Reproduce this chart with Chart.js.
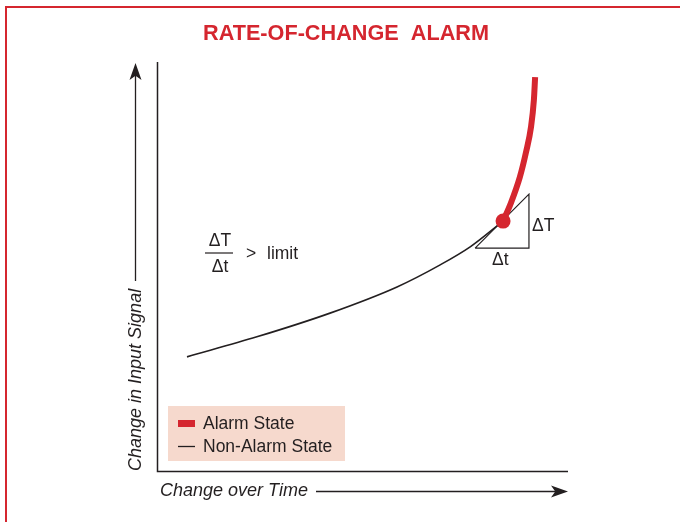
<!DOCTYPE html>
<html>
<head>
<meta charset="utf-8">
<script src="https://cdn.jsdelivr.net/npm/chart.js@4/dist/chart.umd.min.js"></script>
<style>
  html, body { margin: 0; padding: 0; background: #fff; }
  #wrap { width: 680px; height: 522px; }
</style>
</head>
<body>
<div id="wrap"><canvas id="roc"></canvas></div>
<script>
// curve readings (time 0..10, signal 0..10)
const nonAlarmX = [0.73, 2.43, 4.21, 5.84, 6.89, 7.62, 8.42];
const nonAlarmY = [2.79, 3.28, 3.86, 4.50, 5.04, 5.48, 6.11];
const alarmX = [8.42, 8.61, 8.83, 8.98, 9.10, 9.17, 9.20];
const alarmY = [6.11, 6.55, 7.19, 7.80, 8.41, 9.07, 9.63];
const triggerX = [8.42];
const triggerY = [6.11];
const slopeX = [7.74, 9.05, 9.05, 7.74];
const slopeY = [5.45, 5.45, 6.77, 5.45];
const legendLabels = ["Alarm State", "Non-Alarm State"];

const RED = "#d5262f";
const INK = "#231f20";
const pts = (xs, ys) => xs.map((x, i) => ({ x: x, y: ys[i] }));

function arrowHead(ctx, tx, ty, dx, dy, len, half) {
  ctx.beginPath();
  ctx.moveTo(tx, ty);
  ctx.lineTo(tx - dx * len - dy * half, ty - dy * len + dx * half);
  ctx.lineTo(tx - dx * len * 0.75, ty - dy * len * 0.75);
  ctx.lineTo(tx - dx * len + dy * half, ty - dy * len - dx * half);
  ctx.closePath();
  ctx.fill();
}

const decor = {
  id: "decor",
  beforeDatasetsDraw(chart) {
    const ctx = chart.ctx;
    const a = chart.chartArea;
    ctx.save();
    // red frame
    ctx.strokeStyle = RED;
    ctx.lineWidth = 2;
    ctx.beginPath();
    ctx.moveTo(6, 522);
    ctx.lineTo(6, 7);
    ctx.lineTo(680, 7);
    ctx.stroke();

    // title, condensed bold
    ctx.fillStyle = RED;
    ctx.font = "bold 22px 'Liberation Sans', Arial, sans-serif";
    ctx.textBaseline = "middle";
    ctx.textAlign = "center";
    const title = "RATE-OF-CHANGE  ALARM";
    const w = ctx.measureText(title).width;
    ctx.save();
    ctx.translate(346, 34);
    ctx.scale(286 / w, 1);
    ctx.fillText(title, 0, 0);
    ctx.restore();

    // axes
    ctx.strokeStyle = INK;
    ctx.lineWidth = 1.5;
    ctx.beginPath();
    ctx.moveTo(a.left + 0.5, a.top);
    ctx.lineTo(a.left + 0.5, a.bottom + 0.5);
    ctx.lineTo(a.right, a.bottom + 0.5);
    ctx.stroke();

    // axis titles with arrows
    ctx.fillStyle = INK;
    ctx.font = "italic 18px 'Liberation Sans', Arial, sans-serif";
    ctx.textAlign = "left";
    ctx.fillText("Change over Time", 160, 491);
    ctx.lineWidth = 1.3;
    ctx.beginPath();
    ctx.moveTo(316, 491.5);
    ctx.lineTo(558, 491.5);
    ctx.stroke();
    arrowHead(ctx, 568, 491.5, 1, 0, 17, 6);

    ctx.save();
    ctx.translate(136, 471);
    ctx.rotate(-Math.PI / 2);
    ctx.textAlign = "left";
    ctx.fillText("Change in Input Signal", 0, 0);
    ctx.restore();
    ctx.beginPath();
    ctx.moveTo(135.5, 281);
    ctx.lineTo(135.5, 72);
    ctx.stroke();
    arrowHead(ctx, 135.5, 63, 0, -1, 17, 6);

    // formula
    ctx.font = "17.5px 'Liberation Sans', Arial, sans-serif";
    ctx.textAlign = "center";
    ctx.fillText("\u0394T", 220, 241);
    ctx.fillText("\u0394t", 220, 267);
    ctx.lineWidth = 1.2;
    ctx.beginPath();
    ctx.moveTo(205, 253);
    ctx.lineTo(233, 253);
    ctx.stroke();
    ctx.textAlign = "left";
    ctx.fillText(">", 246, 254);
    ctx.fillText("limit", 267, 254);

    // slope triangle labels
    ctx.fillText("\u0394T", 532, 226);
    ctx.fillText("\u0394t", 492, 260);

    // legend
    ctx.fillStyle = "#f6d9cd";
    ctx.fillRect(168, 406, 177, 55);
    ctx.fillStyle = RED;
    ctx.fillRect(178, 420, 17, 7);
    ctx.strokeStyle = INK;
    ctx.lineWidth = 1.3;
    ctx.beginPath();
    ctx.moveTo(178, 446.5);
    ctx.lineTo(195, 446.5);
    ctx.stroke();
    ctx.fillStyle = INK;
    ctx.font = "17.5px 'Liberation Sans', Arial, sans-serif";
    ctx.fillText(legendLabels[0], 203, 424);
    ctx.fillText(legendLabels[1], 203, 447);
    ctx.restore();
  }
};

new Chart(document.getElementById("roc"), {
  type: "scatter",
  data: {
    datasets: [
      { label: "trigger", data: pts(triggerX, triggerY), order: 0,
        pointRadius: 7.5, pointBackgroundColor: RED, pointBorderWidth: 0, showLine: false },
      { label: legendLabels[0], data: pts(alarmX, alarmY), order: 1, showLine: true,
        borderColor: RED, borderWidth: 6, pointRadius: 0, cubicInterpolationMode: "monotone" },
      { label: legendLabels[1], data: pts(nonAlarmX, nonAlarmY), order: 2, showLine: true,
        borderColor: INK, borderWidth: 1.6, pointRadius: 0, cubicInterpolationMode: "monotone" },
      { label: "slope", data: pts(slopeX, slopeY), order: 3, showLine: true,
        borderColor: INK, borderWidth: 1.2, pointRadius: 0, tension: 0 }
    ]
  },
  options: {
    responsive: true,
    maintainAspectRatio: false,
    animation: false,
    layout: { padding: { left: 157, right: 112, top: 62, bottom: 51 } },
    plugins: { legend: { display: false }, tooltip: { enabled: false } },
    scales: {
      x: { type: "linear", min: 0, max: 10, display: false },
      y: { type: "linear", min: 0, max: 10, display: false }
    },
    elements: { line: { borderCapStyle: "butt" } },
    clip: false
  },
  plugins: [decor]
});
</script>
</body>
</html>
